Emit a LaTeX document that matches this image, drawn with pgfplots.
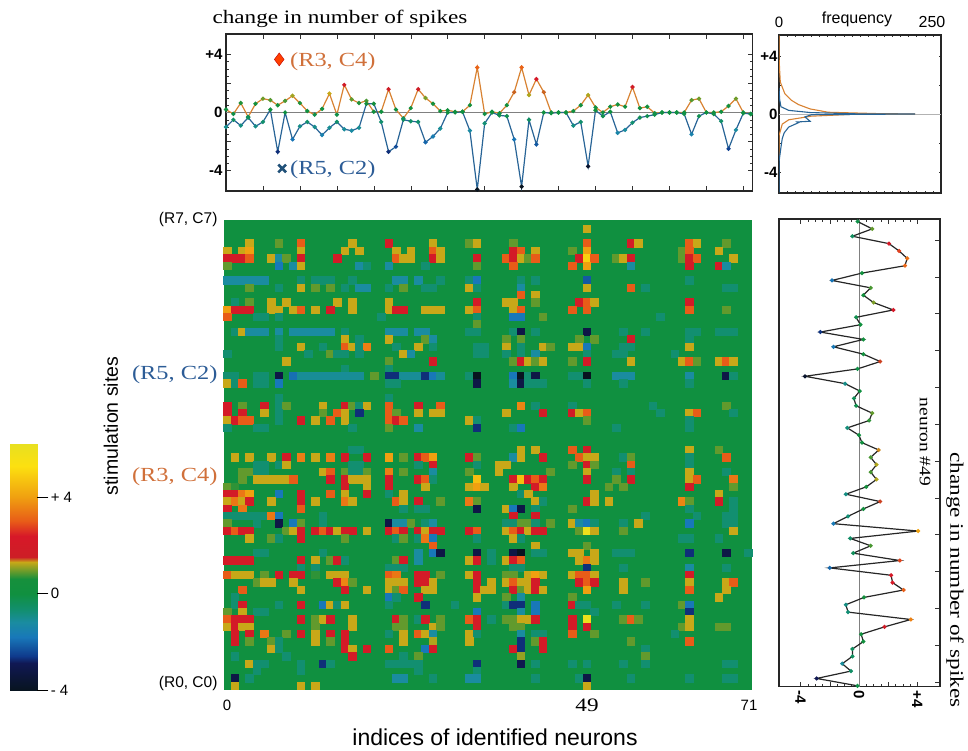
\documentclass[border=0pt]{standalone}
\usepackage{pgfplots}
\pgfplotsset{compat=1.18}
\usepackage{fontspec}
\setmainfont{Liberation Sans}
\newfontfamily\serif[FakeStretch=1.22]{Liberation Serif}
\definecolor{orgline}{RGB}{216,130,50}
\definecolor{bluline}{RGB}{40,100,150}
\definecolor{orgtext}{RGB}{208,112,58}
\definecolor{blutext}{RGB}{44,92,150}
\definecolor{heatgreen}{RGB}{16,144,64}
\pgfplotsset{
  colormap={spk}{
    rgb255(0cm)=(8,20,32);
    rgb255(1.1cm)=(16,24,84);
    rgb255(1.4cm)=(15,58,140);
    rgb255(2.2cm)=(24,120,185);
    rgb255(2.8cm)=(26,140,160);
    rgb255(3.3cm)=(18,143,112);
    rgb255(4cm)=(16,144,64);
    rgb255(4.6cm)=(22,144,60);
    rgb255(5.3cm)=(200,168,24);
    rgb255(5.5cm)=(205,30,38);
    rgb255(6.4cm)=(215,24,40);
    rgb255(7cm)=(232,92,24);
    rgb255(8cm)=(240,160,16);
    rgb255(9.3cm)=(252,224,16);
    rgb255(10.2cm)=(232,224,32)
  },
  point meta min=-4, point meta max=6.2,
  common/.style={scale only axis, anchor=south west, clip=true},
  panel/.style={common, axis line style={line width=1.3pt,black!85}, tick style={black!80,line width=.5pt},
    tick align=inside, major tick length=5pt, minor tick length=3pt,
    ticklabel style={font=\fontsize{15}{15}\selectfont\bfseries}},
  sdot/.style={scatter, mark=*, mark size=1.5pt, line width=1.2pt,
    scatter/use mapped color={draw=mapped color,fill=mapped color}},
}
\begin{document}
\begin{tikzpicture}[x=1pt,y=1pt]
\path[use as bounding box] (0,0) rectangle (968,750);

% colour bar
\begin{axis}[common, at={(9.3pt,60pt)}, width=28pt, height=246pt,
  xmin=0, xmax=1, ymin=-4, ymax=6.2, view={0}{90},
  axis line style={draw=none}, xtick=\empty, ytick={-4,0,4},
  yticklabels={{- 4},{0},{+ 4}}, ytick pos=right, yticklabel pos=right,
  tick align=outside, major tick length=11pt, tick style={black,line width=.8pt},
  ticklabel style={font=\fontsize{15}{15}\selectfont, xshift=-1pt}]
\addplot3[surf, shader=interp, mesh/cols=2, point meta=y] coordinates {
  (0,-4,0) (1,-4,0)
  (0,-2.9,0) (1,-2.9,0)
  (0,-2.6,0) (1,-2.6,0)
  (0,-1.8,0) (1,-1.8,0)
  (0,-1.2,0) (1,-1.2,0)
  (0,-0.7,0) (1,-0.7,0)
  (0,0,0) (1,0,0)
  (0,0.6,0) (1,0.6,0)
  (0,1.3,0) (1,1.3,0)
  (0,1.5,0) (1,1.5,0)
  (0,2.4,0) (1,2.4,0)
  (0,3,0) (1,3,0)
  (0,4,0) (1,4,0)
  (0,5.3,0) (1,5.3,0)
  (0,6.2,0) (1,6.2,0)
};
\end{axis}

% top panel
\begin{axis}[panel, at={(226pt,559pt)}, width=526.7pt, height=157pt,
  xmin=0, xmax=71.27, ymin=-5.4, ymax=5.4,
  xtick distance=5, xticklabels={}, ytick={-4,-2,0,2,4}, yticklabels={-4,,0,,+4},
  minor y tick num=3, ytick pos=both, xtick pos=both, yticklabel pos=left]
\addplot[gray,line width=.7pt] coordinates {(0,0) (71.27,0)};
\addplot[sdot, draw=orgline] coordinates {
(0,.2)(1,-.1)(2,.65)(3,-.3)(4,.6)(5,.95)(6,.85)(7,.5)(8,.8)(9,1.15)(10,.65)(11,.1)(12,-.15)(13,.25)(14,1.3)(15,-.15)(16,1.9)(17,.9)(18,.65)(19,.8)(20,.05)(21,.05)(22,1.6)(23,.2)(24,-.4)(25,.3)(26,1.6)(27,1)(28,.6)(29,.1)(30,.15)(31,.05)(32,.05)(33,.5)(34,3.1)(35,-.1)
(36,.05)(37,-.05)(38,.5)(39,1.4)(40,3.1)(41,1.2)(42,2.3)(43,1.4)(44,0)(45,0)(46,0)(47,.1)(48,.5)(49,1.2)(50,.35)(51,0)(52,.4)(53,.55)(54,.4)(55,1.75)(56,.3)(57,.4)(58,-.05)(59,0)(60,0)(61,0)(62,0)(63,.85)(64,.95)(65,0)(66,0)(67,.05)(68,.45)(69,.95)(70,0)(71,-.1)};
\addplot[sdot, draw=bluline] coordinates {
(0,-1)(1,-.5)(2,-.9)(3,-.35)(4,-.95)(5,-.65)(6,.2)(7,-2.7)(8,0)(9,-1.85)(10,-.95)(11,-.65)(12,-1)(13,-1.55)(14,-1.05)(15,-.65)(16,-1.15)(17,-1.25)(18,-1.05)(19,.6)(20,.6)(21,-.65)(22,-2.7)(23,-2.35)(24,-.5)(25,-.6)(26,-.65)(27,-2.05)(28,-1.65)(29,-1.1)(30,0)(31,0)(32,.05)(33,-1.25)(34,-5.3)(35,-.75)
(36,0)(37,-.2)(38,-.25)(39,-1.85)(40,-5.1)(41,-.5)(42,-2.2)(43,0)(44,-.05)(45,0)(46,0)(47,-.9)(48,-.65)(49,-3.7)(50,.15)(51,-.25)(52,.05)(53,-1.4)(54,-1.2)(55,-.7)(56,-.35)(57,-.25)(58,-.15)(59,0)(60,0)(61,0)(62,-.1)(63,-1.5)(64,-.25)(65,0)(66,-.1)(67,-.6)(68,-2.5)(69,-1.2)(70,-.05)(71,-.1)};
\addplot[only marks, mark=diamond*, mark size=6.5pt, color=red!75!black, mark options={fill=orange!50!red}] coordinates {(7.2,3.65)};
\addplot[only marks, mark=x, mark size=5.5pt, color=bluline!80!black, mark options={line width=2.6pt}] coordinates {(7.6,-3.85)};
\node[anchor=west,text=orgtext,font=\serif\fontsize{20}{20}\selectfont] at (axis cs:8.2,3.5) {(R3, C4)};
\node[anchor=west,text=blutext,font=\serif\fontsize{20}{20}\selectfont] at (axis cs:8.2,-3.95) {(R5, C2)};
\end{axis}

% histogram panel
\begin{axis}[panel, at={(779pt,557pt)}, width=162pt, height=158pt,
  xmin=0, xmax=250, ymin=-5.45, ymax=5.45,
  xtick distance=12.5, xticklabels={}, ytick={-4,-2,0,2,4}, yticklabels={-4,,0,,+4},
  major tick length=2pt, ytick pos=both, xtick pos=both, yticklabel pos=left,
  ticklabel style={xshift=2pt}]
\addplot[gray!60,line width=.6pt] coordinates {(0,0) (250,0)};
\addplot[orgline,line width=1.1pt] coordinates {(0,5.4)(0,4)(1,3)(2,2.2)(9,1.4)(19,.95)(30,.65)(48,.35)(76,.12)(150,.03)(210,0)(110,-.03)(50,-.15)(15,-.4)(5,-.7)(0,-1.5)(0,-3.2)};
\addplot[bluline,line width=1.1pt] coordinates {(0,1.8)(1,1)(3,.5)(15,.25)(48,.1)(120,.01)(210,0)(50,-.05)(40,-.2)(48,-.5)(28,-.55)(30,-.6)(15,-.9)(8,-1.3)(5,-1.7)(3,-2.3)(0,-3.3)(0,-5.4)};
\end{axis}

% main heat map
\begin{axis}[common, at={(224pt,60.5pt)}, width=528pt, height=469.5pt,
  xmin=-.5, xmax=71.5, ymin=-.2, ymax=63.5, y dir=reverse,
  axis line style={draw=none}, ticks=none,
  axis background/.style={fill=heatgreen}]
\addplot[only marks, scatter, point meta=explicit, mark=square*, mark size=3.68pt, line width=0pt,
  scatter/use mapped color={draw=mapped color,fill=mapped color}] coordinates {
(49,1)[1.3]
(3,3)[1.3](7,3)[.9](10,3)[3](17,3)[1.3](22,3)[2](28,3)[1.3](33,3)[.9](34,3)[1.3](39,3)[.9](49,3)[3](55,3)[2](56,3)[1.3](63,3)[3](64,3)[1.3](68,3)[.9]
(0,4)[1.3](2,4)[1.3](3,4)[4](10,4)[1.3](16,4)[1.3](18,4)[1.3](23,4)[1.3](25,4)[1.3](28,4)[3](29,4)[1.3](39,4)[2](40,4)[3](42,4)[1.3](47,4)[.9](49,4)[4](62,4)[.9](63,4)[3](67,4)[1.3]
(0,5)[2](1,5)[2](2,5)[2](3,5)[3](6,5)[1.3](7,5)[-1.2](8,5)[.9](10,5)[2](15,5)[2](23,5)[3](24,5)[1.3](25,5)[1.3](28,5)[2](29,5)[1.3](34,5)[2](38,5)[3](39,5)[2](40,5)[1.3](41,5)[.9](42,5)[3](48,5)[2](49,5)[5](50,5)[3](53,5)[.9](54,5)[1.3](55,5)[2](62,5)[.9](63,5)[2](64,5)[3](69,5)[1.3]
(0,6)[.9](7,6)[-1.8](9,6)[-1.2](10,6)[1.3](18,6)[-1.2](19,6)[-.7](22,6)[-1.2](27,6)[-.7](34,6)[.9](39,6)[3](47,6)[3](49,6)[4](55,6)[-1.2](63,6)[2](67,6)[2](68,6)[-1.2]
(0,8)[-1.2](1,8)[-1.2](2,8)[-1.2](3,8)[-1.2](4,8)[-1.2](5,8)[-1.2](10,8)[-.7](12,8)[-.7](13,8)[-.7](14,8)[-.7](17,8)[-.7](23,8)[-1.2](24,8)[-1.2](26,8)[-1.2](29,8)[-.7](33,8)[-.7](34,8)[-1.8](40,8)[-.7](42,8)[-.7](49,8)[-2.2](63,8)[-.7]
(3,9)[.9](7,9)[-.7](10,9)[1.3](12,9)[.9](14,9)[.9](16,9)[-.7](18,9)[-1.2](19,9)[-1.2](22,9)[-.7](24,9)[.9](27,9)[-.7](28,9)[-.7](33,9)[1.3](34,9)[-.7](40,9)[-1.2](49,9)[1.3](55,9)[3](57,9)[-.7](68,9)[-.7](69,9)[-.7]
(40,10)[3](42,10)[1.3]
(1,11)[-.7](3,11)[.9](6,11)[1.3](8,11)[1.3](15,11)[1.3](17,11)[1.3](22,11)[1.3](34,11)[2](38,11)[1.3](39,11)[1.3](42,11)[.9](48,11)[2](49,11)[3](50,11)[1.3](63,11)[2]
(0,12)[4](1,12)[2](2,12)[2](3,12)[2](6,12)[1.3](7,12)[1.3](9,12)[1.3](10,12)[3](12,12)[1.3](14,12)[2](17,12)[1.3](22,12)[1.3](23,12)[2](24,12)[2](27,12)[1.3](28,12)[1.3](29,12)[1.3](33,12)[1.3](34,12)[3](39,12)[1.3](40,12)[3](47,12)[3](49,12)[3](63,12)[3](68,12)[.9]
(0,13)[3](4,13)[-.7](5,13)[-.7](7,13)[-.7](21,13)[-.7](34,13)[-.7](39,13)[-1.8](40,13)[-1.8](43,13)[.9](59,13)[-.7]
(34,14)[.9]
(1,15)[-.7](2,15)[1.3](3,15)[-1.2](4,15)[-1.2](5,15)[-1.2](7,15)[-1.2](9,15)[-1.2](10,15)[-1.2](11,15)[-1.2](12,15)[-1.2](13,15)[-1.2](14,15)[-1.2](16,15)[-.7](22,15)[-1.2](23,15)[-1.2](24,15)[-1.2](26,15)[-1.2](27,15)[-1.2](33,15)[-.7](34,15)[-.7](39,15)[-.7](40,15)[-3.2](42,15)[-.7](49,15)[-3.2](54,15)[-.7](57,15)[-.7](63,15)[-.7](64,15)[-.7](67,15)[-.7](68,15)[-.7](69,15)[-.7]
(7,16)[-.7](16,16)[1.3](18,16)[-.7](22,16)[1.3](27,16)[.9](28,16)[-1.2](38,16)[.9](40,16)[.9](48,16)[.9](50,16)[.9](55,16)[2](63,16)[-.7]
(7,17)[-.7](10,17)[1.3](13,17)[-.7](16,17)[3](17,17)[1.3](18,17)[-.7](19,17)[3.5](23,17)[-.7](26,17)[1.3](28,17)[-.7](34,17)[-.7](35,17)[-.7](38,17)[1.3](40,17)[-.7](43,17)[1.3](44,17)[.9](47,17)[1.3](48,17)[1.3](49,17)[-1.8](54,17)[-.7](55,17)[-.7](63,17)[1.3]
(0,18)[-.7](11,18)[-.7](14,18)[.9](15,18)[-.7](16,18)[-.7](18,18)[-.7](24,18)[1.3](25,18)[-1.2](34,18)[-.7](35,18)[-.7](38,18)[-.7](40,18)[-.7](42,18)[-1.2](49,18)[-.7](53,18)[-.7](54,18)[-.7](61,18)[-.7]
(8,19)[1.3](22,19)[.9](28,19)[2](39,19)[.9](40,19)[2](41,19)[1.3](42,19)[.9](43,19)[1.3](47,19)[.9](49,19)[2](55,19)[1.3](62,19)[1.3](63,19)[3](64,19)[.9](67,19)[1.3](68,19)[3](69,19)[1.3]
(16,20)[-.7](22,20)[-.7]
(0,21)[-.7](1,21)[-.7](4,21)[-.7](5,21)[-.7](7,21)[-3.2](9,21)[-1.9](10,21)[-1.1](11,21)[-1.1](12,21)[-1.1](13,21)[-1.1](14,21)[-1.1](15,21)[-1.1](16,21)[-1.1](17,21)[-1.1](18,21)[-1.1](20,21)[.9](22,21)[-2.7](23,21)[-2.7](24,21)[-1.1](25,21)[-1.1](26,21)[-1.1](27,21)[-2.7](28,21)[-1.8](29,21)[-1.1](33,21)[-.7](34,21)[-4](39,21)[-1.8](40,21)[-4](41,21)[-.7](42,21)[-3.2](47,21)[-.7](48,21)[-.7](49,21)[-4](53,21)[-1.2](54,21)[-1.2](55,21)[-1.2](63,21)[-1.2](68,21)[-3.2](69,21)[-.7]
(0,22)[1.3](1,22)[-.7](2,22)[3](4,22)[-.7](5,22)[-.7](7,22)[-1.8](22,22)[-.7](23,22)[-.7](34,22)[-3.2](39,22)[-1.2](40,22)[-3.2](41,22)[-.7](42,22)[-.7](43,22)[-.7](49,22)[-.7](54,22)[-.7](63,22)[-.7]
(7,24)[-.7](22,24)[-.7]
(0,25)[2](2,25)[.9](5,25)[2](7,25)[-.7](8,25)[.9](13,25)[1.3](16,25)[2](17,25)[.9](18,25)[-.7](19,25)[1.3](22,25)[3](26,25)[2](29,25)[3](40,25)[3.6](42,25)[-.7](47,25)[-.7](58,25)[-.7](68,25)[.9]
(0,26)[2](2,26)[2](5,26)[1.3](7,26)[-.7](13,26)[.9](15,26)[3](16,26)[1.3](18,26)[-2.7](22,26)[3](23,26)[.9](26,26)[1.3](28,26)[1.3](29,26)[1.3](38,26)[1.3](43,26)[2](47,26)[2](48,26)[1.3](49,26)[3](59,26)[-.7](63,26)[1.3](64,26)[3](69,26)[-.7]
(0,27)[1.3](1,27)[2](2,27)[3](3,27)[3](7,27)[-.7](10,27)[2](12,27)[1.3](14,27)[3](16,27)[1.3](22,27)[3](23,27)[2](24,27)[3](33,27)[1.3](34,27)[-.7](49,27)[.9](63,27)[-.7]
(0,28)[-.7](4,28)[-.7](5,28)[-.7](17,28)[-.7](22,28)[.9](26,28)[-1.2](34,28)[-2.7](39,28)[-.7](40,28)[-1.8](53,28)[-.7](63,28)[-.7]
(17,31)[-.7](18,31)[-.7](40,31)[1.3](42,31)[1.3](47,31)[3](49,31)[2](63,31)[1.3](67,31)[.9]
(1,32)[1.3](3,32)[1.3](6,32)[1.3](8,32)[2](10,32)[3.5](12,32)[1.3](14,32)[3.5](16,32)[2](19,32)[2](22,32)[4](24,32)[.9](26,32)[2](27,32)[3](28,32)[4](33,32)[2](34,32)[.9](39,32)[-1.2](40,32)[1.3](43,32)[2](48,32)[3](49,32)[1.3](50,32)[1.3](54,32)[-.7](55,32)[.9](63,32)[-.7](68,32)[3]
(4,33)[-.7](5,33)[-.7](7,33)[-.7](8,33)[1.3](17,33)[-.7](18,33)[-.7](26,33)[-.7](28,33)[2](34,33)[-.7](37,33)[1.3](38,33)[1.3](47,33)[.9](49,33)[2](50,33)[.9](55,33)[3](63,33)[-.7]
(2,34)[.9](3,34)[.9](4,34)[-.7](5,34)[-.7](13,34)[1.3](14,34)[3](16,34)[.9](17,34)[-.7](18,34)[-.7](19,34)[.9](22,34)[3.5](24,34)[.9](28,34)[-1.2](33,34)[.9](37,34)[1.3](44,34)[.9](49,34)[1.3](53,34)[-.7](55,34)[-.7](63,34)[1.3](68,34)[-.7]
(2,35)[.9](4,35)[1.3](5,35)[1.3](6,35)[1.3](7,35)[1.3](8,35)[1.3](9,35)[3](14,35)[2](16,35)[2](17,35)[1.3](18,35)[1.3](19,35)[1.3](22,35)[2](26,35)[2](27,35)[3](28,35)[-.7](34,35)[4.6](39,35)[2](40,35)[4.6](41,35)[2](42,35)[3](43,35)[2](49,35)[2](53,35)[.9](55,35)[2](63,35)[1.3](64,35)[3](69,35)[3.4]
(0,36)[.9](1,36)[.7](16,36)[2](19,36)[1.3](22,36)[2](27,36)[1.3](33,36)[1.3](34,36)[4](35,36)[1.3](39,36)[1.3](42,36)[2](43,36)[3.4](52,36)[.9](54,36)[.9](63,36)[2](69,36)[.9]
(0,37)[2](1,37)[2](2,37)[3.4](3,37)[4](7,37)[-1.8](10,37)[2](14,37)[3](16,37)[1.3](19,37)[2](22,37)[-.7](24,37)[1.3](40,37)[-.7](41,37)[1.3](50,37)[1.3](67,37)[1.3]
(0,38)[1.3](1,38)[3.4](2,38)[1.3](3,38)[2](6,38)[1.3](10,38)[2](12,38)[1.3](16,38)[3.4](17,38)[1.3](23,38)[3](24,38)[1.3](26,38)[2](29,38)[.9](33,38)[3.4](34,38)[.9](42,38)[1.3](43,38)[-.7](49,38)[2](50,38)[1.3](52,38)[1.3](62,38)[3.6](63,38)[.9](67,38)[2](69,38)[-.7]
(0,39)[2](2,39)[3.4](10,39)[3](24,39)[-.7](26,39)[-.7](27,39)[-.7](34,39)[-3.2](38,39)[1.3](39,39)[-1.8](40,39)[-3.2](42,39)[-.7](47,39)[.9](63,39)[-.7](69,39)[-.7]
(0,40)[-.7](1,40)[-.7](2,40)[-.7](3,40)[-.7](4,40)[-.7](5,40)[-.7](6,40)[3.4](7,40)[-1.8](13,40)[-.7](39,40)[2](42,40)[2](57,40)[-.7](64,40)[-.7](68,40)[-.7](69,40)[-.7]
(0,41)[.9](4,41)[-.7](7,41)[-3.2](9,41)[-1.8](10,41)[.9](13,41)[-.7](22,41)[-3.2](23,41)[-1.2](24,41)[-1.2](25,41)[.9](27,41)[-.7](28,41)[-1.2](38,41)[-.7](39,41)[-.7](40,41)[.9](41,41)[.9](42,41)[-.7](44,41)[.9](47,41)[1.3](48,41)[-1.2](49,41)[-1.8](50,41)[-.7](54,41)[-.7](56,41)[1.3](63,41)[-1.8](68,41)[-.7](69,41)[-.7]
(0,42)[2](1,42)[3](2,42)[2](3,42)[2](8,42)[.9](9,42)[1.3](10,42)[2](12,42)[2](13,42)[3](14,42)[2](15,42)[1.3](16,42)[2](17,42)[2](19,42)[1.3](22,42)[2](23,42)[3](24,42)[2](26,42)[2](27,42)[1.3](28,42)[2](29,42)[2](33,42)[2](34,42)[3](38,42)[1.3](39,42)[3](40,42)[2](41,42)[1.3](42,42)[2](43,42)[2](48,42)[.9](49,42)[6](50,42)[1.3](54,42)[.9](69,42)[1.3]
(3,43)[1.3](6,43)[.9](7,43)[-.7](10,43)[2](16,43)[.9](23,43)[-.7](24,43)[.9](26,43)[-.7](27,43)[3.4](28,43)[-1.8](34,43)[-.7](39,43)[1.3](40,43)[-.7](62,43)[-.7](63,43)[-.7](67,43)[-.7]
(28,44)[3](42,44)[1.3](49,44)[.9]
(4,45)[-.7](5,45)[-.7](13,45)[-.7](26,45)[-1.2](28,45)[-1.8](29,45)[-3.2](34,45)[-3.2](36,45)[-.7](39,45)[-3.2](40,45)[-4](42,45)[-.7](43,45)[-.7](47,45)[1.3](48,45)[1.3](50,45)[1.3](53,45)[-.7](54,45)[-.7](55,45)[-.7](63,45)[-2.7](68,45)[-3.2](71,45)[-.7]
(0,46)[2](1,46)[2](2,46)[2](3,46)[2](10,46)[2](12,46)[1.3](14,46)[.9](15,46)[2](16,46)[-.7](23,46)[.9](24,46)[2](26,46)[-1.2](33,46)[1.3](34,46)[2](36,46)[-.7](38,46)[1.3](39,46)[2](40,46)[3](48,46)[1.3](49,46)[3.4](50,46)[1.3]
(10,47)[-.7](12,47)[-.7](22,47)[-.7](23,47)[-.7](24,47)[-.7](39,47)[-.7](40,47)[-.7](49,47)[-2.7](54,47)[-.7](63,47)[-1.2](68,47)[-.7]
(0,48)[3](1,48)[1.3](2,48)[1.3](3,48)[1.3](5,48)[.9](7,48)[2](9,48)[2](10,48)[2](12,48)[.7](14,48)[1.3](15,48)[1.3](16,48)[1.3](22,48)[3](23,48)[3.4](26,48)[2](27,48)[2](29,48)[.9](33,48)[1.3](34,48)[2](38,48)[.9](39,48)[.9](41,48)[1.3](42,48)[4](43,48)[1.3](47,48)[1.3](48,48)[3](49,48)[3](50,48)[1.3](63,48)[2]
(4,49)[.9](5,49)[1.3](6,49)[1.3](9,49)[1.3](15,49)[2](16,49)[3.6](17,49)[.9](22,49)[1.3](23,49)[1.3](24,49)[1.3](26,49)[2](27,49)[2](28,49)[1.3](34,49)[2](36,49)[1.3](38,49)[1.3](39,49)[3](40,49)[1.3](41,49)[1.3](42,49)[2](48,49)[2](49,49)[3](50,49)[2](54,49)[1.3](57,49)[.9](63,49)[1.3](68,49)[1.3](69,49)[3]
(2,50)[3](10,50)[1.3](16,50)[2](19,50)[1.3](22,50)[1.3](23,50)[.9](24,50)[3](27,50)[1.3](28,50)[1.3](34,50)[2](35,50)[1.3](36,50)[1.3](39,50)[2](40,50)[.9](41,50)[1.3](42,50)[2](43,50)[1.3](49,50)[4](54,50)[1.3](63,50)[3](68,50)[1.3]
(1,51)[-.7](22,51)[-1.8](23,51)[-.7](26,51)[2](34,51)[1.3](38,51)[.9](40,51)[-1.2](47,51)[.9](67,51)[1.3]
(1,52)[-.7](2,52)[2](7,52)[-.7](10,52)[2](13,52)[-1.8](14,52)[1.3](15,52)[-.7](16,52)[1.3](22,52)[-.7](27,52)[-2.7](31,52)[-.7](38,52)[-.7](39,52)[-2.7](40,52)[-2.7](42,52)[-1.8](47,52)[2](48,52)[-.7](49,52)[-.7](53,52)[-.7](57,52)[-.7](62,52)[.9](63,52)[-1.8]
(0,53)[.9](2,53)[1.3](4,53)[-.7](5,53)[-.7](34,53)[-1.8](40,53)[-1.2](42,53)[-1.8](50,53)[-.7](63,53)[-2.7]
(0,54)[3](1,54)[2](2,54)[2](3,54)[2](10,54)[2](12,54)[.9](13,54)[1.3](14,54)[2](17,54)[1.3](23,54)[2](24,54)[.9](26,54)[-.7](27,54)[2](29,54)[.9](33,54)[3](34,54)[2](36,54)[-.7](38,54)[.9](39,54)[.9](40,54)[1.3](41,54)[1.3](42,54)[2](47,54)[2](49,54)[6](54,54)[.9](55,54)[3](56,54)[.9](63,54)[1.3]
(0,55)[1.3](1,55)[2](2,55)[1.3](3,55)[1.3](12,55)[.9](17,55)[1.3](23,55)[.9](24,55)[.9](28,55)[1.3](29,55)[.9](34,55)[2](39,55)[.9](40,55)[.9](47,55)[2](49,55)[2](62,55)[.9](63,55)[1.3](67,55)[.9](68,55)[.9]
(1,56)[2](3,56)[2](5,56)[3.4](8,56)[.9](10,56)[2](12,56)[1.3](14,56)[2](16,56)[2](22,56)[-.7](24,56)[1.3](26,56)[3](27,56)[1.3](28,56)[-1.2](33,56)[1.3](34,56)[-.7](40,56)[-1.2](42,56)[-.7](43,56)[-.7](47,56)[3](50,56)[.9](61,56)[-.7]
(1,57)[2](3,57)[.9](6,57)[.9](7,57)[-.7](12,57)[1.3](14,57)[.9](16,57)[2](24,57)[1.3](28,57)[1.2](33,57)[1.3](40,57)[-2.7](42,57)[.9](43,57)[2](55,57)[.9](63,57)[3]
(6,58)[1.3](7,58)[-.7](16,58)[2](17,58)[1.3](19,58)[2](22,58)[3](27,58)[-1.8](28,58)[2](39,58)[2](40,58)[-2.7](43,58)[2](57,58)[-.7]
(1,59)[-.7](8,59)[-.7](17,59)[2](24,59)[-.7](26,59)[.9](40,59)[1.1](57,59)[.9]
(3,60)[1.3](4,60)[-.7](5,60)[-.7](10,60)[-.7](13,60)[-2.7](14,60)[-.7](22,60)[-.7](23,60)[-.7](24,60)[-.7](25,60)[-.7](26,60)[-.7](34,60)[-2.7](40,60)[-3](42,60)[-.7](47,60)[-.7](49,60)[-.7](54,60)[-.7](57,60)[-.7](68,60)[-.7](69,60)[-.7]
(4,61)[-.7](10,61)[-.7](26,61)[-.7](34,61)[-.7]
(1,62)[-3.2](3,62)[-.7](23,62)[-1.2](24,62)[-1.2](28,62)[-.7](33,62)[-1.2](34,62)[-1.2](42,62)[-.7](48,62)[-.7](49,62)[-3.2](55,62)[-.7](63,62)[-.7](68,62)[-.7](69,62)[-.7]
(1,63)[1.3](10,63)[1.3](12,63)[1.3](49,63)[1.3]
};
\end{axis}

% neuron 49
\begin{axis}[panel, at={(779pt,63.3pt)}, width=161pt, height=467.7pt,
  xmin=-5.48, xmax=5.55, ymin=-.34, ymax=63.12, y dir=reverse,
  xtick={-4,-2,0,2,4}, xticklabels={-4,,0,,+4}, minor x tick num=3,
  ytick={2.5,7.5,...,62.5}, yticklabels={}, ytick pos=right, xtick pos=both, xticklabel pos=left,
  x tick label style={rotate=-90, anchor=west, font=\fontsize{15}{15}\selectfont\bfseries},
  clip=true]
\addplot[gray,line width=.6pt] coordinates {(0,-.34) (0,63.12)};
\addplot[sdot, draw=black!85, point meta=x, mark size=1.4pt] coordinates {
(-.1,0)(.9,1)(-.45,2)(2.05,3)(2.75,4)(3.3,5)(3.15,6)(.2,7)(-1.85,8)(.8,9)(.3,10)(1,11)(2.35,12)(-.2,13)(.1,14)(-2.65,15)(.3,16)(-1.75,17)(.3,18)(1.45,19)(-.1,20)(-3.7,21)(-.95,22)(.05,23)(-.35,24)(-.2,25)(.9,26)(.7,27)(-.8,28)(0,29)(.2,30)(1.35,31)(.8,32)(1.2,33)(.8,34)(1.2,35)(.5,36)(-.9,37)(1.45,38)(.3,39)(-.75,40)(-1.75,41)(4.05,42)(-.6,43)(.8,44)(-.4,45)(2.8,46)(-2,47)(2.2,48)(2.3,49)(3.05,50)(.35,51)(-.9,52)(-.75,53)(3.55,54)(1.75,55)(.15,56)(.3,57)(-.45,58)(-.45,59)(-1.15,60)(-.55,61)(-2.9,62)(-.1,63)};
\end{axis}

% text
\node[anchor=base west,font=\serif\fontsize{19}{19}\selectfont] at (209,726) {change in number of spikes};
\node[font=\fontsize{15}{15}\selectfont] at (779,728) {0};
\node[font=\fontsize{16}{16}\selectfont] at (857,731) {frequency};
\node[font=\fontsize{16}{16}\selectfont] at (932,728) {250};
\node[anchor=east,font=\fontsize{15.5}{15.5}\selectfont] at (221,531) {(R7, C7)};
\node[anchor=east,font=\fontsize{15.5}{15.5}\selectfont] at (221,67) {(R0, C0)};
\node[anchor=east,text=blutext,font=\serif\fontsize{20}{20}\selectfont] at (221,375) {(R5, C2)};
\node[anchor=east,text=orgtext,font=\serif\fontsize{20}{20}\selectfont] at (221,273) {(R3, C4)};
\node[rotate=90,font=\fontsize{19.5}{19.5}\selectfont] at (111,324) {stimulation sites};
\node[font=\fontsize{15}{15}\selectfont] at (227,45) {0};
\node[font=\serif\fontsize{19}{19}\selectfont] at (587,45) {49};
\node[font=\fontsize{15}{15}\selectfont] at (749,45) {71};
\node[font=\fontsize{23}{23}\selectfont] at (495,13) {indices of identified neurons};
\node[rotate=-90,font=\serif\fontsize{16}{16}\selectfont] at (925,308) {neuron \#49};
\node[rotate=-90,font=\serif\fontsize{19}{19}\selectfont] at (955,170) {change in number of spikes};
\end{tikzpicture}
\end{document}
